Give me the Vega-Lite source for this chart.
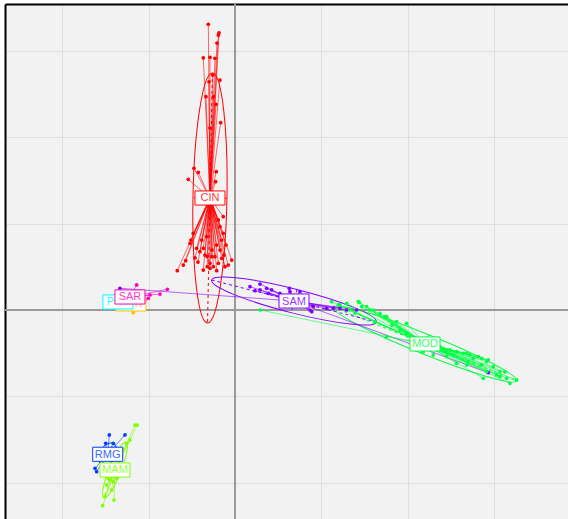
{
  "$schema": "https://vega.github.io/schema/vega-lite/v6.json",
  "autosize": {"type": "none"},
  "padding": {"left": 5, "top": 4, "right": 0, "bottom": 0},
  "width": 563,
  "height": 515,
  "background": "white",
  "config": {"view": {"fill": "#f2f2f2", "stroke": null}},
  "datasets": {
    "cls": [
      {"g": "CIN", "cx": -0.290, "cy": 1.298, "a": 1.448, "ang": 91.1},
      {"g": "FOR", "cx": -1.205, "cy": 0.070, "a": 0.03, "ang": 0},
      {"g": "MAM", "cx": -1.390, "cy": -1.854, "a": 0.348, "ang": 111.8},
      {"g": "MOD", "cx": 2.202, "cy": -0.394, "a": 1.147, "ang": 21.9},
      {"g": "PHY", "cx": -1.356, "cy": 0.093, "a": 0.05, "ang": 0},
      {"g": "RMG", "cx": -1.475, "cy": -1.672, "a": 0.139, "ang": -60},
      {"g": "SAM", "cx": 0.684, "cy": 0.104, "a": 0.985, "ang": 14.3},
      {"g": "SAR", "cx": -1.217, "cy": 0.151, "a": 0.174, "ang": -10}
    ],
    "pts": [
      {"g": "CIN", "x": -0.309, "y": 3.310},
      {"g": "CIN", "x": -0.185, "y": 3.210},
      {"g": "CIN", "x": -0.193, "y": 3.186},
      {"g": "CIN", "x": -0.209, "y": 3.094},
      {"g": "CIN", "x": -0.367, "y": 2.923},
      {"g": "CIN", "x": -0.290, "y": 2.928},
      {"g": "CIN", "x": -0.232, "y": 2.916},
      {"g": "CIN", "x": -0.258, "y": 2.723},
      {"g": "CIN", "x": -0.174, "y": 2.665},
      {"g": "CIN", "x": -0.301, "y": 2.645},
      {"g": "CIN", "x": -0.336, "y": 2.472},
      {"g": "CIN", "x": -0.251, "y": 2.472},
      {"g": "CIN", "x": -0.220, "y": 2.383},
      {"g": "CIN", "x": -0.166, "y": 2.170},
      {"g": "CIN", "x": -0.290, "y": 2.109},
      {"g": "CIN", "x": -0.475, "y": 1.642},
      {"g": "CIN", "x": -0.425, "y": 1.596},
      {"g": "CIN", "x": -0.541, "y": 1.514},
      {"g": "CIN", "x": -0.217, "y": 1.603},
      {"g": "CIN", "x": -0.224, "y": 1.487},
      {"g": "CIN", "x": -0.669, "y": 0.455},
      {"g": "CIN", "x": -0.599, "y": 0.521},
      {"g": "CIN", "x": -0.571, "y": 0.571},
      {"g": "CIN", "x": -0.521, "y": 0.773},
      {"g": "CIN", "x": -0.510, "y": 0.811},
      {"g": "CIN", "x": -0.444, "y": 0.715},
      {"g": "CIN", "x": -0.406, "y": 0.676},
      {"g": "CIN", "x": -0.367, "y": 0.715},
      {"g": "CIN", "x": -0.348, "y": 0.637},
      {"g": "CIN", "x": -0.321, "y": 0.618},
      {"g": "CIN", "x": -0.367, "y": 0.463},
      {"g": "CIN", "x": -0.321, "y": 0.502},
      {"g": "CIN", "x": -0.290, "y": 0.541},
      {"g": "CIN", "x": -0.251, "y": 0.502},
      {"g": "CIN", "x": -0.193, "y": 0.541},
      {"g": "CIN", "x": -0.154, "y": 0.599},
      {"g": "CIN", "x": -0.127, "y": 0.637},
      {"g": "CIN", "x": -0.078, "y": 0.521},
      {"g": "CIN", "x": -0.116, "y": 0.502},
      {"g": "CIN", "x": -0.174, "y": 0.695},
      {"g": "CIN", "x": -0.212, "y": 0.753},
      {"g": "CIN", "x": -0.154, "y": 0.811},
      {"g": "CIN", "x": -0.136, "y": 0.889},
      {"g": "CIN", "x": -0.483, "y": 0.889},
      {"g": "CIN", "x": -0.174, "y": 0.965},
      {"g": "CIN", "x": -0.136, "y": 1.081},
      {"g": "CIN", "x": -0.193, "y": 1.043},
      {"g": "CIN", "x": -0.270, "y": 0.618},
      {"g": "CIN", "x": -0.232, "y": 0.618},
      {"g": "CIN", "x": -0.386, "y": 0.811},
      {"g": "CIN", "x": -0.328, "y": 0.849},
      {"g": "CIN", "x": -0.290, "y": 0.483},
      {"g": "CIN", "x": -0.212, "y": 0.455},
      {"g": "CIN", "x": -0.038, "y": 0.579},
      {"g": "CIN", "x": -0.429, "y": 0.556},
      {"g": "CIN", "x": -0.463, "y": 0.603},
      {"g": "CIN", "x": -0.266, "y": 0.695},
      {"g": "CIN", "x": -0.104, "y": 0.753},
      {"g": "FOR", "x": -1.178, "y": -0.031},
      {"g": "FOR", "x": -1.228, "y": 0.116},
      {"g": "PHY", "x": -1.414, "y": 0.081},
      {"g": "PHY", "x": -1.306, "y": 0.104},
      {"g": "SAR", "x": -1.139, "y": 0.290},
      {"g": "SAR", "x": -0.784, "y": 0.240},
      {"g": "SAR", "x": -0.869, "y": 0.185},
      {"g": "SAR", "x": -0.985, "y": 0.174},
      {"g": "SAR", "x": -1.005, "y": 0.136},
      {"g": "SAR", "x": -1.043, "y": 0.116},
      {"g": "SAR", "x": -1.448, "y": 0.116},
      {"g": "SAR", "x": -1.390, "y": 0.162},
      {"g": "SAM", "x": 0.174, "y": 0.270},
      {"g": "SAM", "x": 0.290, "y": 0.301},
      {"g": "SAM", "x": 0.290, "y": 0.232},
      {"g": "SAM", "x": 0.367, "y": 0.251},
      {"g": "SAM", "x": 0.386, "y": 0.193},
      {"g": "SAM", "x": 0.425, "y": 0.232},
      {"g": "SAM", "x": 0.521, "y": 0.193},
      {"g": "SAM", "x": 0.629, "y": 0.251},
      {"g": "SAM", "x": 0.637, "y": 0.212},
      {"g": "SAM", "x": 0.753, "y": 0.212},
      {"g": "SAM", "x": 0.232, "y": 0.224},
      {"g": "SAM", "x": 0.869, "y": 0.000},
      {"g": "SAM", "x": 0.889, "y": -0.020},
      {"g": "SAM", "x": 0.907, "y": 0.038},
      {"g": "SAM", "x": 1.063, "y": 0.020},
      {"g": "SAM", "x": 1.139, "y": 0.020},
      {"g": "SAM", "x": 1.294, "y": 0.000},
      {"g": "SAM", "x": 1.410, "y": 0.000},
      {"g": "SAM", "x": 2.935, "y": -0.727},
      {"g": "SAM", "x": -1.333, "y": 0.251},
      {"g": "SAM", "x": 1.217, "y": 0.023},
      {"g": "SAM", "x": 0.811, "y": 0.046},
      {"g": "MOD", "x": 0.290, "y": 0.000},
      {"g": "MOD", "x": 1.120, "y": 0.096},
      {"g": "MOD", "x": 1.217, "y": 0.058},
      {"g": "MOD", "x": 1.294, "y": 0.078},
      {"g": "MOD", "x": 1.429, "y": 0.096},
      {"g": "MOD", "x": 1.526, "y": 0.038},
      {"g": "MOD", "x": 1.603, "y": 0.000},
      {"g": "MOD", "x": 1.680, "y": -0.038},
      {"g": "MOD", "x": 1.758, "y": -0.078},
      {"g": "MOD", "x": 1.197, "y": 0.058},
      {"g": "MOD", "x": 1.440, "y": 0.089},
      {"g": "MOD", "x": 1.468, "y": 0.038},
      {"g": "MOD", "x": 1.564, "y": 0.000},
      {"g": "MOD", "x": 1.738, "y": -0.078},
      {"g": "MOD", "x": 1.874, "y": -0.136},
      {"g": "MOD", "x": 1.989, "y": -0.154},
      {"g": "MOD", "x": 1.758, "y": -0.309},
      {"g": "MOD", "x": 1.912, "y": -0.232},
      {"g": "MOD", "x": 1.989, "y": -0.270},
      {"g": "MOD", "x": 2.182, "y": -0.483},
      {"g": "MOD", "x": 2.298, "y": -0.521},
      {"g": "MOD", "x": 2.414, "y": -0.444},
      {"g": "MOD", "x": 2.491, "y": -0.463},
      {"g": "MOD", "x": 2.569, "y": -0.483},
      {"g": "MOD", "x": 2.645, "y": -0.502},
      {"g": "MOD", "x": 2.723, "y": -0.521},
      {"g": "MOD", "x": 2.761, "y": -0.560},
      {"g": "MOD", "x": 2.858, "y": -0.560},
      {"g": "MOD", "x": 2.916, "y": -0.599},
      {"g": "MOD", "x": 2.858, "y": -0.637},
      {"g": "MOD", "x": 2.993, "y": -0.657},
      {"g": "MOD", "x": 3.071, "y": -0.715},
      {"g": "MOD", "x": 3.032, "y": -0.753},
      {"g": "MOD", "x": 3.148, "y": -0.791},
      {"g": "MOD", "x": 3.186, "y": -0.849},
      {"g": "MOD", "x": 3.264, "y": -0.811},
      {"g": "MOD", "x": 2.877, "y": -0.791},
      {"g": "MOD", "x": 2.685, "y": -0.637},
      {"g": "MOD", "x": 2.569, "y": -0.618},
      {"g": "MOD", "x": 2.453, "y": -0.541},
      {"g": "MOD", "x": 2.375, "y": -0.425},
      {"g": "MOD", "x": 2.703, "y": -0.599},
      {"g": "MOD", "x": 2.916, "y": -0.715},
      {"g": "MOD", "x": 3.071, "y": -0.773},
      {"g": "MOD", "x": 2.530, "y": -0.521},
      {"g": "MOD", "x": 2.337, "y": -0.463},
      {"g": "MOD", "x": 2.685, "y": -0.502},
      {"g": "MOD", "x": 2.819, "y": -0.541},
      {"g": "MOD", "x": 2.935, "y": -0.579},
      {"g": "MOD", "x": 2.453, "y": -0.463},
      {"g": "MOD", "x": 1.333, "y": 0.000},
      {"g": "MOD", "x": 1.390, "y": -0.035},
      {"g": "MOD", "x": 1.819, "y": -0.174},
      {"g": "MOD", "x": 2.086, "y": -0.324},
      {"g": "MOD", "x": 1.622, "y": -0.139},
      {"g": "MOD", "x": 3.128, "y": -0.718},
      {"g": "MAM", "x": -1.159, "y": -1.333},
      {"g": "MAM", "x": -1.132, "y": -1.333},
      {"g": "MAM", "x": -1.255, "y": -1.545},
      {"g": "MAM", "x": -1.448, "y": -1.970},
      {"g": "MAM", "x": -1.410, "y": -1.989},
      {"g": "MAM", "x": -1.487, "y": -2.028},
      {"g": "MAM", "x": -1.429, "y": -2.086},
      {"g": "MAM", "x": -1.506, "y": -2.163},
      {"g": "MAM", "x": -1.402, "y": -2.202},
      {"g": "MAM", "x": -1.533, "y": -2.268},
      {"g": "MAM", "x": -1.468, "y": -1.950},
      {"g": "MAM", "x": -1.371, "y": -1.950},
      {"g": "MAM", "x": -1.217, "y": -1.506},
      {"g": "MAM", "x": -1.333, "y": -1.738},
      {"g": "RMG", "x": -1.456, "y": -1.448},
      {"g": "RMG", "x": -1.275, "y": -1.448},
      {"g": "RMG", "x": -1.498, "y": -1.545},
      {"g": "RMG", "x": -1.410, "y": -1.545},
      {"g": "RMG", "x": -1.622, "y": -1.834},
      {"g": "RMG", "x": -1.603, "y": -1.874},
      {"g": "RMG", "x": -1.448, "y": -1.715}
    ]
  },
  "resolve": {"scale": {"shape": "independent"}},
  "layer": [
    {
      "data": {"name": "cls"},
      "mark": {"type": "rule", "color": "#9a9a9a", "strokeWidth": 1.5},
      "encoding": {
        "x": {"datum": 0, "type": "quantitative", "scale": {"domain": [-2.665, 3.859], "nice": false, "zero": false},
          "axis": {"orient": "top", "title": null, "labels": false, "ticks": false, "domain": true, "domainColor": "black", "domainWidth": 2, "grid": true, "gridColor": "#dedede", "gridWidth": 1, "values": [-2, -1, 1, 2, 3]}}
      }
    },
    {
      "data": {"name": "cls"},
      "mark": {"type": "rule", "color": "#9a9a9a", "strokeWidth": 1.5},
      "encoding": {
        "y": {"datum": 0, "type": "quantitative", "scale": {"domain": [-2.422, 3.546], "nice": false, "zero": false},
          "axis": {"orient": "left", "title": null, "labels": false, "ticks": false, "domain": true, "domainColor": "black", "domainWidth": 2, "grid": true, "gridColor": "#dedede", "gridWidth": 1, "values": [-2, -1, 1, 2, 3]}}
      }
    },
    {
      "data": {"name": "cls"},
      "mark": {"type": "point", "filled": false, "strokeWidth": 1, "opacity": 1},
      "encoding": {
        "x": {"field": "cx", "type": "quantitative"},
        "y": {"field": "cy", "type": "quantitative"},
        "shape": {"field": "g", "type": "nominal", "legend": null, "scale": {"domain": ["CIN","FOR","MAM","MOD","PHY","RMG","SAM","SAR"], "range": [
          "M -1 0 C -1 -0.0751 -0.5523 -0.136 0 -0.136 C 0.5523 -0.136 1 -0.0751 1 0 C 1 0.0751 0.5523 0.136 0 0.136 C -0.5523 0.136 -1 0.0751 -1 0 Z",
          "M -1 0 C -1 -0.2762 -0.5523 -0.5 0 -0.5 C 0.5523 -0.5 1 -0.2762 1 0 C 1 0.2762 0.5523 0.5 0 0.5 C -0.5523 0.5 -1 0.2762 -1 0 Z",
          "M -1 0 C -1 -0.1105 -0.5523 -0.2 0 -0.2 C 0.5523 -0.2 1 -0.1105 1 0 C 1 0.1105 0.5523 0.2 0 0.2 C -0.5523 0.2 -1 0.1105 -1 0 Z",
          "M -1 0 C -1 -0.0558 -0.5523 -0.101 0 -0.101 C 0.5523 -0.101 1 -0.0558 1 0 C 1 0.0558 0.5523 0.101 0 0.101 C -0.5523 0.101 -1 0.0558 -1 0 Z",
          "M -1 0 C -1 -0.2762 -0.5523 -0.5 0 -0.5 C 0.5523 -0.5 1 -0.2762 1 0 C 1 0.2762 0.5523 0.5 0 0.5 C -0.5523 0.5 -1 0.2762 -1 0 Z",
          "M -1 0 C -1 -0.37 -0.5523 -0.67 0 -0.67 C 0.5523 -0.67 1 -0.37 1 0 C 1 0.37 0.5523 0.67 0 0.67 C -0.5523 0.67 -1 0.37 -1 0 Z",
          "M -1 0 C -1 -0.0779 -0.5523 -0.141 0 -0.141 C 0.5523 -0.141 1 -0.0779 1 0 C 1 0.0779 0.5523 0.141 0 0.141 C -0.5523 0.141 -1 0.0779 -1 0 Z",
          "M -1 0 C -1 -0.1436 -0.5523 -0.26 0 -0.26 C 0.5523 -0.26 1 -0.1436 1 0 C 1 0.1436 0.5523 0.26 0 0.26 C -0.5523 0.26 -1 0.1436 -1 0 Z"
        ]}},
        "size": {"field": "a", "type": "quantitative", "legend": null, "scale": {"type": "pow", "exponent": 2, "domain": [0, 1], "range": [0, 29791]}},
        "angle": {"field": "ang", "type": "quantitative", "scale": null},
        "stroke": {"field": "g", "type": "nominal", "legend": null, "scale": {"domain": ["CIN","FOR","MAM","MOD","PHY","RMG","SAM","SAR"], "range": ["#FF0000","#FFBF00","#80FF00","#00FF40","#00FFFF","#0040FF","#8000FF","#FF00BF"]}}
      }
    },
    {
      "data": {"name": "cls"},
      "mark": {"type": "point", "filled": false, "strokeWidth": 1, "strokeDash": [3, 3], "opacity": 1},
      "encoding": {
        "x": {"field": "cx", "type": "quantitative"},
        "y": {"field": "cy", "type": "quantitative"},
        "shape": {"field": "g", "type": "nominal", "legend": null, "scale": {"domain": ["CIN","FOR","MAM","MOD","PHY","RMG","SAM","SAR"], "range": [
          "M -1 0 L 1 0 M 0 -0.136 L 0 0.136",
          "M -1 0 L 1 0 M 0 -0.5 L 0 0.5",
          "M -1 0 L 1 0 M 0 -0.2 L 0 0.2",
          "M -1 0 L 1 0 M 0 -0.101 L 0 0.101",
          "M -1 0 L 1 0 M 0 -0.5 L 0 0.5",
          "M -1 0 L 1 0 M 0 -0.67 L 0 0.67",
          "M -1 0 L 1 0 M 0 -0.141 L 0 0.141",
          "M -1 0 L 1 0 M 0 -0.26 L 0 0.26"
        ]}},
        "size": {"field": "a", "type": "quantitative", "legend": null},
        "angle": {"field": "ang", "type": "quantitative", "scale": null},
        "stroke": {"field": "g", "type": "nominal", "legend": null}
      }
    },
    {
      "data": {"name": "pts"},
      "transform": [{"lookup": "g", "from": {"data": {"name": "cls"}, "key": "g", "fields": ["cx", "cy"]}}],
      "mark": {"type": "rule", "strokeWidth": 0.9, "opacity": 0.65},
      "encoding": {
        "x": {"field": "x", "type": "quantitative"},
        "y": {"field": "y", "type": "quantitative"},
        "x2": {"field": "cx"},
        "y2": {"field": "cy"},
        "color": {"field": "g", "type": "nominal", "legend": null, "scale": {"domain": ["CIN","FOR","MAM","MOD","PHY","RMG","SAM","SAR"], "range": ["#FF0000","#FFBF00","#80FF00","#00FF40","#00FFFF","#0040FF","#8000FF","#FF00BF"]}}
      }
    },
    {
      "data": {"name": "pts"},
      "mark": {"type": "circle", "size": 14, "opacity": 1},
      "encoding": {
        "x": {"field": "x", "type": "quantitative"},
        "y": {"field": "y", "type": "quantitative"},
        "color": {"field": "g", "type": "nominal", "legend": null}
      }
    },
    {
      "data": {"name": "cls"},
      "transform": [{"filter": {"field": "g", "oneOf": ["CIN", "MAM", "MOD", "RMG", "SAM"]}}],
      "layer": [
        {
          "mark": {"type": "point", "shape": "M -1 -0.47 L 1 -0.47 L 1 0.47 L -1 0.47 Z", "size": 900, "filled": false, "fill": "white", "fillOpacity": 1, "strokeWidth": 1, "opacity": 1},
          "encoding": {
            "x": {"field": "cx", "type": "quantitative"},
            "y": {"field": "cy", "type": "quantitative"},
            "stroke": {"field": "g", "type": "nominal", "legend": null}
          }
        },
        {
          "mark": {"type": "text", "font": "Liberation Sans", "fontSize": 11, "align": "center", "baseline": "middle", "opacity": 0.8, "dy": 0.5},
          "encoding": {
            "x": {"field": "cx", "type": "quantitative"},
            "y": {"field": "cy", "type": "quantitative"},
            "text": {"field": "g"},
            "color": {"field": "g", "type": "nominal", "legend": null}
          }
        }
      ]
    },
    {
      "data": {"name": "cls"},
      "transform": [{"filter": {"field": "g", "equal": "FOR"}}],
      "layer": [
        {
          "mark": {"type": "point", "shape": "M -1 -0.47 L 1 -0.47 L 1 0.47 L -1 0.47 Z", "size": 900, "filled": false, "fill": "white", "fillOpacity": 1, "strokeWidth": 1, "opacity": 1},
          "encoding": {
            "x": {"field": "cx", "type": "quantitative"},
            "y": {"field": "cy", "type": "quantitative"},
            "stroke": {"field": "g", "type": "nominal", "legend": null}
          }
        },
        {
          "mark": {"type": "text", "font": "Liberation Sans", "fontSize": 11, "align": "center", "baseline": "middle", "opacity": 0.8, "dy": 0.5},
          "encoding": {
            "x": {"field": "cx", "type": "quantitative"},
            "y": {"field": "cy", "type": "quantitative"},
            "text": {"field": "g"},
            "color": {"field": "g", "type": "nominal", "legend": null}
          }
        }
      ]
    },
    {
      "data": {"name": "cls"},
      "transform": [{"filter": {"field": "g", "equal": "PHY"}}],
      "layer": [
        {
          "mark": {"type": "point", "shape": "M -1 -0.47 L 1 -0.47 L 1 0.47 L -1 0.47 Z", "size": 900, "filled": false, "fill": "white", "fillOpacity": 1, "strokeWidth": 1, "opacity": 1},
          "encoding": {
            "x": {"field": "cx", "type": "quantitative"},
            "y": {"field": "cy", "type": "quantitative"},
            "stroke": {"field": "g", "type": "nominal", "legend": null}
          }
        },
        {
          "mark": {"type": "text", "font": "Liberation Sans", "fontSize": 11, "align": "center", "baseline": "middle", "opacity": 0.8, "dy": 0.5},
          "encoding": {
            "x": {"field": "cx", "type": "quantitative"},
            "y": {"field": "cy", "type": "quantitative"},
            "text": {"field": "g"},
            "color": {"field": "g", "type": "nominal", "legend": null}
          }
        }
      ]
    },
    {
      "data": {"name": "cls"},
      "transform": [{"filter": {"field": "g", "equal": "SAR"}}],
      "layer": [
        {
          "mark": {"type": "point", "shape": "M -1 -0.47 L 1 -0.47 L 1 0.47 L -1 0.47 Z", "size": 900, "filled": false, "fill": "white", "fillOpacity": 1, "strokeWidth": 1, "opacity": 1},
          "encoding": {
            "x": {"field": "cx", "type": "quantitative"},
            "y": {"field": "cy", "type": "quantitative"},
            "stroke": {"field": "g", "type": "nominal", "legend": null}
          }
        },
        {
          "mark": {"type": "text", "font": "Liberation Sans", "fontSize": 11, "align": "center", "baseline": "middle", "opacity": 0.8, "dy": 0.5},
          "encoding": {
            "x": {"field": "cx", "type": "quantitative"},
            "y": {"field": "cy", "type": "quantitative"},
            "text": {"field": "g"},
            "color": {"field": "g", "type": "nominal", "legend": null}
          }
        }
      ]
    }
  ]
}
